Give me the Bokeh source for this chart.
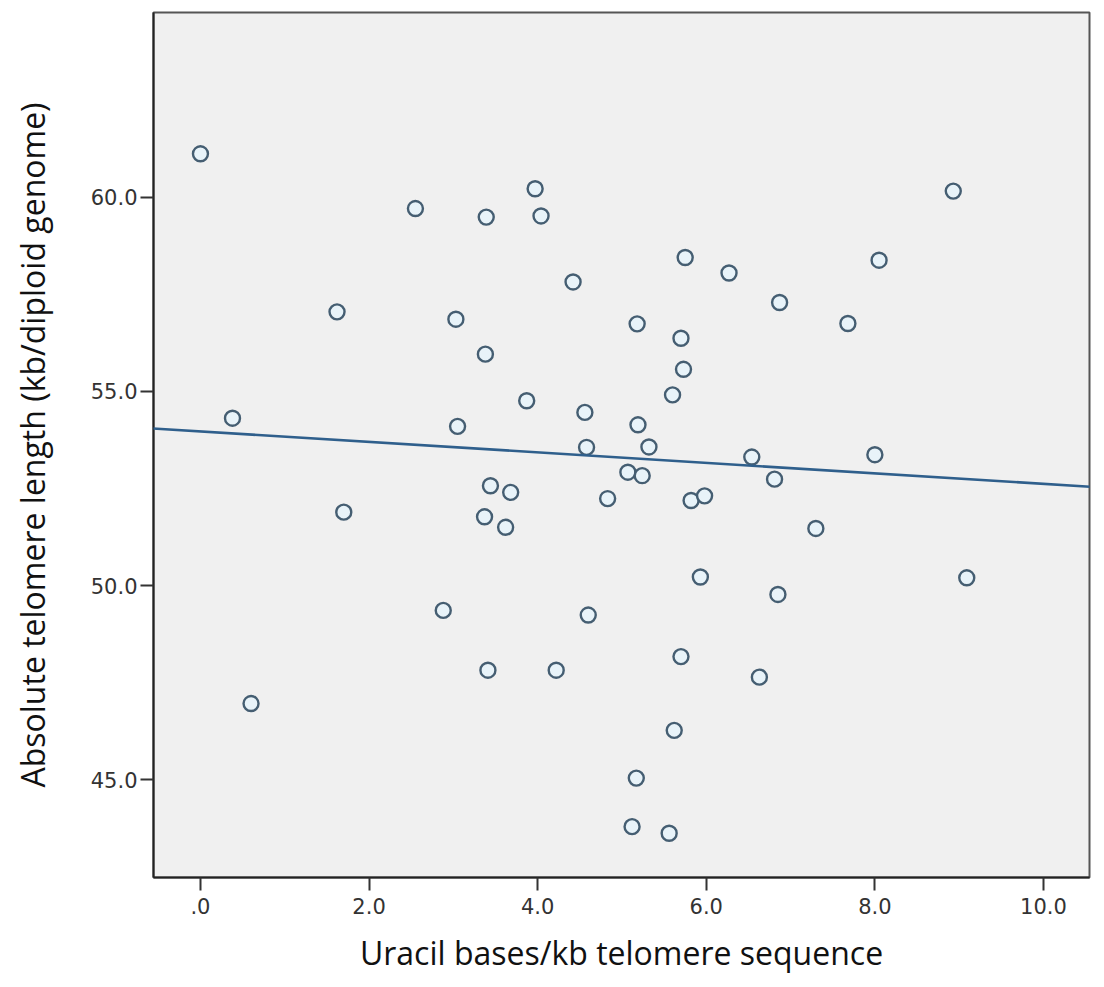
from bokeh.plotting import figure
from bokeh.models import Range1d, FixedTicker, Slope
from bokeh.embed import file_html
from bokeh.resources import INLINE

# Uracil content (bases/kb telomere sequence) per sample
uracil = [0.00, 1.62, 0.38, 1.70, 0.60, 2.55, 3.39, 3.97, 4.04, 5.75,
          6.27, 6.87, 4.42, 3.03, 5.18, 5.70, 3.38, 5.73, 5.60, 3.87,
          4.56, 3.05, 5.19, 4.58, 5.32, 6.54, 5.07, 5.24, 6.81, 3.44,
          3.68, 4.83, 5.82, 5.98, 3.37, 3.62, 5.93, 6.85, 2.88, 4.60,
          5.70, 3.41, 4.22, 6.63, 5.62, 5.17, 5.12, 5.56, 8.93, 8.05,
          7.68, 8.00, 7.30, 9.09]

# Absolute telomere length (kb/diploid genome) per sample
telomere = [61.12, 57.05, 54.31, 51.89, 46.96, 59.71, 59.49, 60.22, 59.52, 58.45,
            58.05, 57.29, 57.82, 56.86, 56.74, 56.37, 55.96, 55.57, 54.91, 54.76,
            54.46, 54.10, 54.14, 53.56, 53.57, 53.31, 52.92, 52.83, 52.74, 52.57,
            52.40, 52.24, 52.19, 52.31, 51.77, 51.50, 50.22, 49.77, 49.36, 49.24,
            48.17, 47.82, 47.82, 47.64, 46.27, 45.04, 43.79, 43.62, 60.16, 58.38,
            56.75, 53.37, 51.47, 50.20]

# Linear fit line
fit_intercept = 53.97
fit_slope = -0.135

x_ticks = [0, 2, 4, 6, 8, 10]
x_tick_labels = [".0", "2.0", "4.0", "6.0", "8.0", "10.0"]
y_ticks = [45, 50, 55, 60]
y_tick_labels = ["45.0", "50.0", "55.0", "60.0"]

p = figure(width=1104, height=987,
           x_range=Range1d(-0.557, 10.546), y_range=Range1d(42.48, 64.76),
           min_border_left=153, min_border_right=15,
           min_border_top=12, min_border_bottom=110,
           output_backend="svg", toolbar_location=None)

p.background_fill_color = "#f0f0f0"
p.border_fill_color = "white"
p.outline_line_color = "#555555"
p.outline_line_width = 2
p.xgrid.visible = False
p.ygrid.visible = False

for ax in (p.xaxis[0], p.yaxis[0]):
    ax.axis_line_color = "#222222"
    ax.axis_line_width = 2
    ax.major_tick_line_color = "#333333"
    ax.major_tick_line_width = 2
    ax.major_tick_out = 13
    ax.major_tick_in = 0
    ax.minor_tick_line_color = None
    ax.major_label_text_font = "DejaVu Sans"
    ax.major_label_text_font_size = "21px"
    ax.major_label_text_color = "#333333"
    ax.axis_label_text_font = "Open Sans"
    ax.axis_label_text_font_size = "32px"
    ax.axis_label_text_font_style = "normal"
    ax.axis_label_text_color = "#111111"

p.xaxis.ticker = FixedTicker(ticks=x_ticks)
p.xaxis.major_label_overrides = dict(zip(x_ticks, x_tick_labels))
p.xaxis.major_label_standoff = 7
p.xaxis.axis_label = "Uracil bases/kb telomere sequence"
p.xaxis.axis_label_standoff = 14

p.yaxis.ticker = FixedTicker(ticks=y_ticks)
p.yaxis.major_label_overrides = dict(zip(y_ticks, y_tick_labels))
p.yaxis.major_label_standoff = 3
p.yaxis.axis_label = "Absolute telomere length (kb/diploid genome)"
p.yaxis.axis_label_standoff = 34

p.add_layout(Slope(gradient=fit_slope, y_intercept=fit_intercept,
                   line_color="#2f5f8c", line_width=2.6))

p.scatter(uracil, telomere, size=15, marker="circle",
          line_color="#455e72", line_width=2.4, fill_color="#e8f3f9")

open("out.html", "w").write(file_html(p, INLINE))
